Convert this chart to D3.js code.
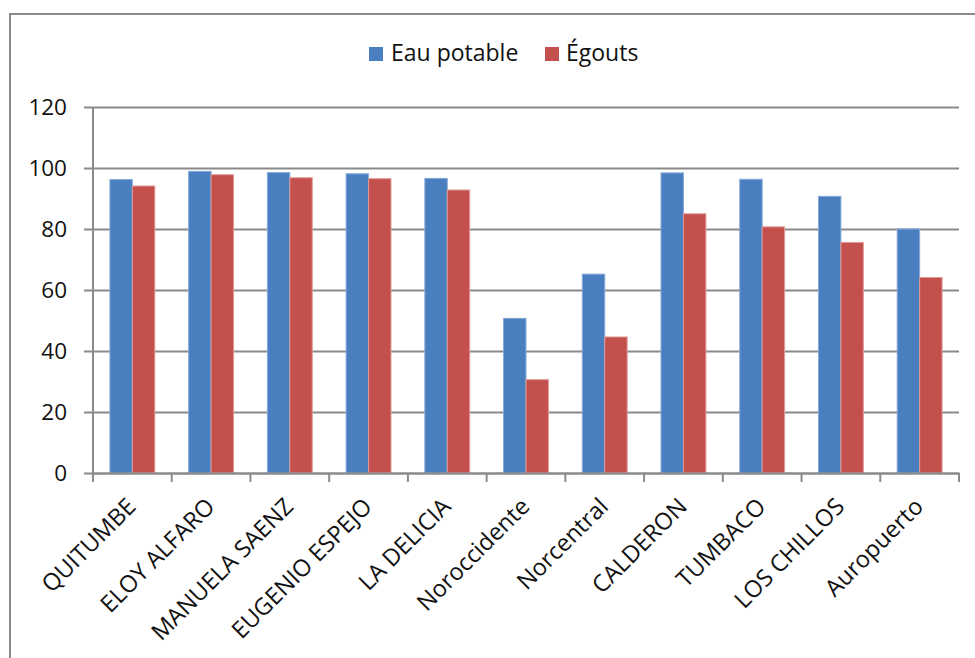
<!DOCTYPE html>
<html>
<head>
<meta charset="utf-8">
<script src="https://cdn.jsdelivr.net/npm/d3@7"></script>
<style>
  html, body { margin: 0; padding: 0; background: #fff; }
  svg { display: block; }
  text { font-family: "Open Sans", sans-serif; fill: #111; }
</style>
</head>
<body>
<svg id="chart" width="975" height="658"></svg>
<script>
const categories = ["QUITUMBE", "ELOY ALFARO", "MANUELA SAENZ", "EUGENIO ESPEJO", "LA DELICIA",
  "Noroccidente", "Norcentral", "CALDERON", "TUMBACO", "LOS CHILLOS", "Auropuerto"];
const seriesNames = ["Eau potable", "Égouts"];
const eauPotable = [96.2, 98.9, 98.5, 98.1, 96.6, 50.7, 65.2, 98.4, 96.3, 90.7, 80.0];
const egouts = [94.1, 97.8, 96.8, 96.5, 92.8, 30.6, 44.6, 85.0, 80.7, 75.6, 64.1];
const yTicks = [0, 20, 40, 60, 80, 100, 120];
const colors = ["#4a7fbf", "#c3504d"];
const strokes = ["#86a9d8", "#e09a98"];

const svg = d3.select("#chart");
const gridColor = "#8a8a8a";

// outer border
svg.append("rect").attr("x", 10).attr("y", 14).attr("width", 975).attr("height", 660)
  .attr("fill", "none").attr("stroke", gridColor).attr("stroke-width", 2);

const pLeft = 93, pRight = 959, pTop = 107, pBottom = 473;

const y = d3.scaleLinear().domain([0, 120]).range([pBottom, pTop]);
const xCat = d3.scaleBand().domain(categories).range([pLeft, pRight]).padding(0);
const xGroup = d3.scaleBand().domain(categories).range([pLeft, pRight]).paddingInner(0.43).paddingOuter(0.215);
const xSeries = d3.scaleBand().domain(seriesNames).range([0, xGroup.bandwidth()]).padding(0);

// y grid + axis
const yAxis = d3.axisLeft(y).tickValues(yTicks).tickSize(0).tickPadding(0).tickSizeOuter(0);
const gy = svg.append("g").attr("transform", `translate(${pLeft - 9},0)`).call(yAxis);
gy.select(".domain").remove();
gy.selectAll(".tick line").attr("stroke", gridColor).attr("stroke-width", 2).attr("x1", 0).attr("x2", pRight - pLeft + 9);
gy.selectAll(".tick text").attr("x", -17).style("font-size", "22.5px").attr("fill", "#111")
  .style("font-family", '"Open Sans", sans-serif');

// vertical axis line
svg.append("line").attr("x1", pLeft).attr("x2", pLeft).attr("y1", y(120)).attr("y2", y(0))
  .attr("stroke", gridColor).attr("stroke-width", 2);

// bars
const data = categories.map((c, i) => ({ cat: c, vals: [eauPotable[i], egouts[i]] }));
const groups = svg.append("g").selectAll("g").data(data).join("g")
  .attr("transform", d => `translate(${xGroup(d.cat)},0)`);
groups.selectAll("rect").data(d => d.vals.map((v, j) => ({ v, s: seriesNames[j], j }))).join("rect")
  .attr("x", d => xSeries(d.s))
  .attr("width", xSeries.bandwidth())
  .attr("y", d => y(d.v))
  .attr("height", d => y(0) - y(d.v))
  .attr("fill", d => colors[d.j])
  .attr("stroke", d => strokes[d.j])
  .attr("stroke-width", 1);

// x axis
const xAxis = d3.axisBottom(xCat).tickSize(0).tickFormat("").tickSizeOuter(0);
const gx = svg.append("g").attr("transform", `translate(0,${pBottom})`).call(xAxis);
gx.select(".domain").attr("stroke", gridColor).attr("stroke-width", 2);
// boundary ticks
const boundaries = categories.map(c => xCat(c)).concat([xCat(categories[categories.length - 1]) + xCat.bandwidth()]);
svg.append("g").selectAll("line").data(boundaries).join("line")
  .attr("x1", d => d).attr("x2", d => d).attr("y1", pBottom).attr("y2", pBottom + 9)
  .attr("stroke", gridColor).attr("stroke-width", 2);

// x labels
svg.append("g").selectAll("text").data(categories).join("text")
  .attr("transform", d => `translate(${xCat(d) + xCat.bandwidth() / 2 + 5},${pBottom + 35}) rotate(-45)`)
  .attr("text-anchor", "end")
  .style("font-size", "23.5px")
  .text(d => d);

// legend
const legend = svg.append("g");
const legendItems = [{ name: seriesNames[0], x: 369, tx: 391 }, { name: seriesNames[1], x: 545, tx: 566 }];
legendItems.forEach((it, i) => {
  legend.append("rect").attr("x", it.x).attr("y", 47).attr("width", 14).attr("height", 14).attr("fill", colors[i]);
  legend.append("text").attr("x", it.tx).attr("y", 61).style("font-size", "23px").text(it.name);
});
</script>
</body>
</html>
